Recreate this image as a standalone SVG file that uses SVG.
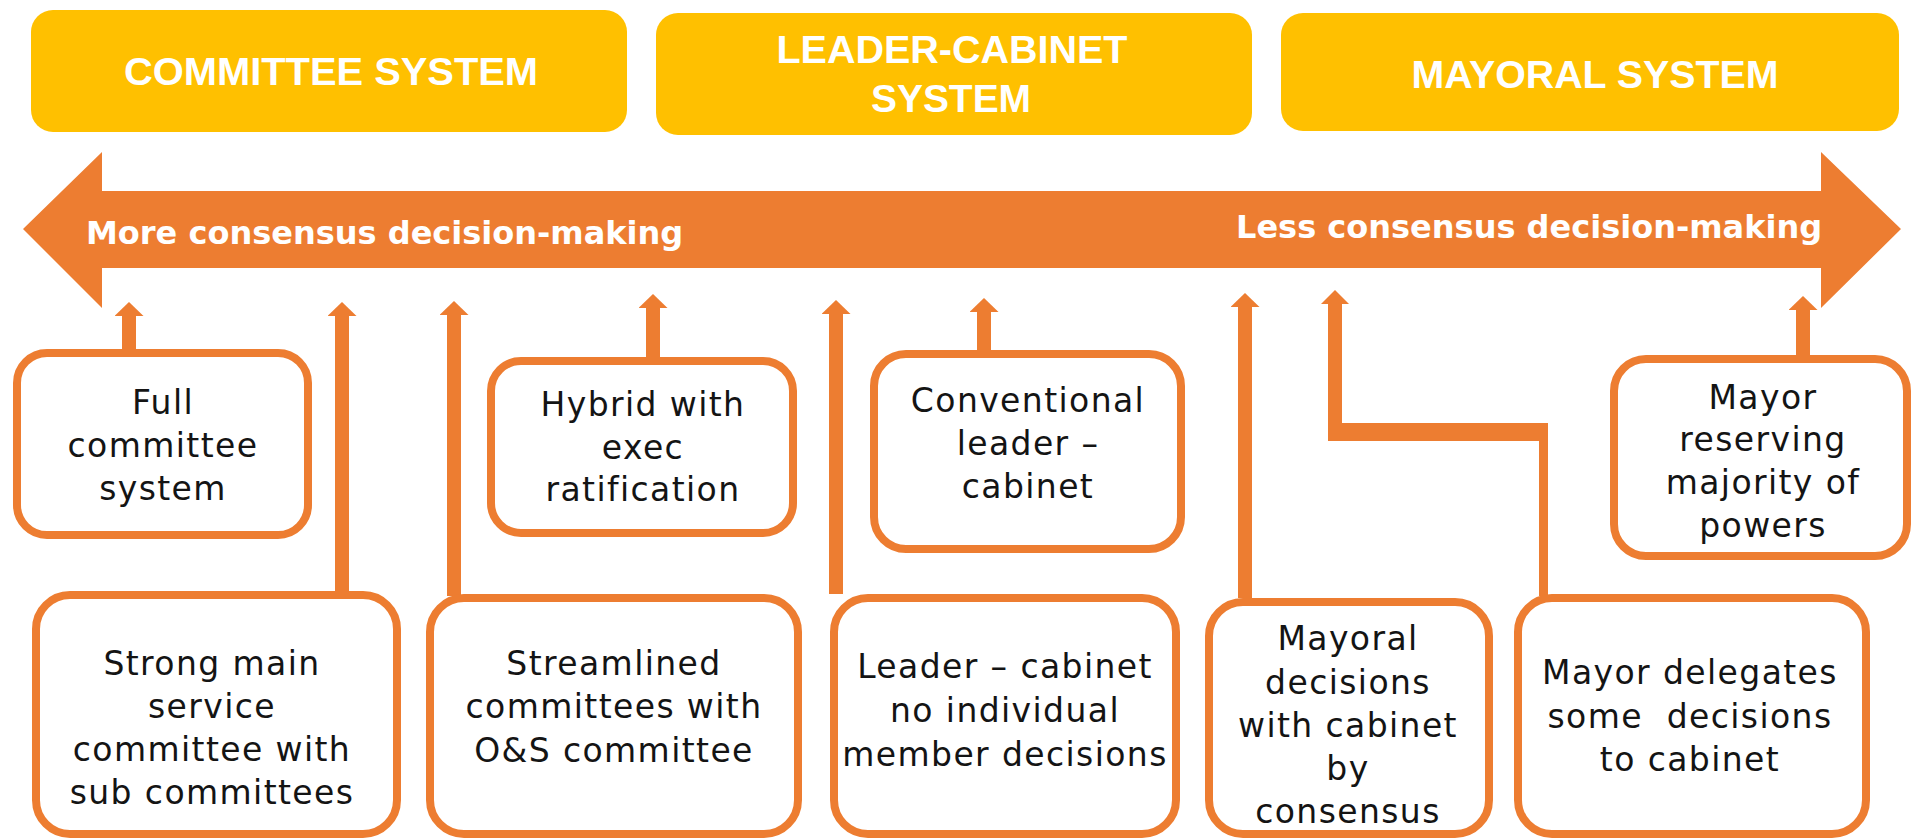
<svg xmlns="http://www.w3.org/2000/svg" width="1921" height="840" viewBox="0 0 1921 840">
  <style>
    .hdr { fill: #FFC000; }
    .hdrtxt { font-family: "Liberation Sans", Arial, sans-serif; font-weight: 700; font-size: 38px; fill: #ffffff; text-anchor: middle; }
    .axis { fill: #ED7D31; }
    .axistxt { font-family: "DejaVu Sans", "Liberation Sans", sans-serif; font-weight: 700; font-size: 32px; fill: #ffffff; }
    .box { fill: #ffffff; stroke: #ED7D31; stroke-width: 8; }
    .lbl { font-family: "DejaVu Sans", "Liberation Sans", sans-serif; font-size: 33px; letter-spacing: 1.4px; fill: #141414; text-anchor: middle; white-space: pre; }
    .conn { fill: none; stroke: #ED7D31; stroke-width: 14; }
    .connfill { fill: #ED7D31; }
  </style>
  <defs>
    <marker id="ah" viewBox="0 0 14 29" markerWidth="14" markerHeight="29" refX="0" refY="14.5" orient="auto" markerUnits="userSpaceOnUse">
      <path d="M0,0 L14,14.5 L0,29 Z" fill="#ED7D31"/>
    </marker>
  </defs>

  <rect width="1921" height="840" fill="#ffffff"/>

  <g id="hdr-committee">
    <rect class="hdr" x="31" y="10" width="596" height="122" rx="22"/>
    <text class="hdrtxt" x="331" y="85" textLength="414" lengthAdjust="spacingAndGlyphs">COMMITTEE SYSTEM</text>
  </g>
  <g id="hdr-leader">
    <rect class="hdr" x="656" y="13" width="596" height="122" rx="22"/>
    <text class="hdrtxt" x="952" y="63" textLength="351" lengthAdjust="spacingAndGlyphs">LEADER-CABINET</text>
    <text class="hdrtxt" x="951" y="112" textLength="160" lengthAdjust="spacingAndGlyphs">SYSTEM</text>
  </g>
  <g id="hdr-mayoral">
    <rect class="hdr" x="1281" y="13" width="618" height="118" rx="22"/>
    <text class="hdrtxt" x="1595" y="88" textLength="367" lengthAdjust="spacingAndGlyphs">MAYORAL SYSTEM</text>
  </g>

  <g id="axis">
    <polygon class="axis" points="23,229 102,152 102,191 1821,191 1821,152 1901,229 1821,308 1821,268 102,268 102,308"/>
    <text class="axistxt" x="86" y="244">More consensus decision-making</text>
    <text class="axistxt" x="1236" y="238">Less consensus decision-making</text>
  </g>

  <g id="connectors">
    <path class="conn" d="M129,349 V316" marker-end="url(#ah)"/>
    <path class="conn" d="M342,591 V316" marker-end="url(#ah)"/>
    <path class="conn" d="M454,596 V315" marker-end="url(#ah)"/>
    <path class="conn" d="M653,357 V308" marker-end="url(#ah)"/>
    <path class="conn" d="M836,594 V314" marker-end="url(#ah)"/>
    <path class="conn" d="M984,350 V312" marker-end="url(#ah)"/>
    <path class="conn" d="M1245,598 V307" marker-end="url(#ah)"/>
    <path class="conn" d="M1803,355 V310" marker-end="url(#ah)"/>
    <polygon class="connfill" points="1328,304 1342,304 1342,423 1548,423 1548,596 1539,596 1539,441 1328,441"/>
    <polygon class="connfill" points="1321,304 1335,290 1349,304"/>
  </g>

  <g id="full-committee">
    <rect class="box" x="17" y="353" width="291" height="182" rx="30"/>
    <text class="lbl"><tspan x="163" y="414">Full</tspan><tspan x="163" y="457">committee</tspan><tspan x="163" y="500">system</tspan></text>
  </g>
  <g id="strong-main">
    <rect class="box" x="36" y="595" width="361" height="239" rx="34"/>
    <text class="lbl"><tspan x="212" y="675">Strong main</tspan><tspan x="212" y="718">service</tspan><tspan x="212" y="761">committee with</tspan><tspan x="212" y="804">sub committees</tspan></text>
  </g>
  <g id="hybrid">
    <rect class="box" x="491" y="361" width="302" height="172" rx="30"/>
    <text class="lbl"><tspan x="643" y="416">Hybrid with</tspan><tspan x="643" y="459">exec</tspan><tspan x="643" y="501">ratification</tspan></text>
  </g>
  <g id="streamlined">
    <rect class="box" x="430" y="598" width="368" height="236" rx="34"/>
    <text class="lbl"><tspan x="614" y="675">Streamlined</tspan><tspan x="614" y="718">committees with</tspan><tspan x="614" y="762">O&amp;S committee</tspan></text>
  </g>
  <g id="conventional">
    <rect class="box" x="874" y="354" width="307" height="195" rx="32"/>
    <text class="lbl"><tspan x="1028" y="412">Conventional</tspan><tspan x="1028" y="455">leader –</tspan><tspan x="1028" y="498">cabinet</tspan></text>
  </g>
  <g id="leader-no-individual">
    <rect class="box" x="834" y="598" width="342" height="236" rx="34"/>
    <text class="lbl"><tspan x="1005" y="678">Leader – cabinet</tspan><tspan x="1005" y="722">no individual</tspan><tspan x="1005" y="766">member decisions</tspan></text>
  </g>
  <g id="mayoral-consensus">
    <rect class="box" x="1209" y="602" width="280" height="232" rx="34"/>
    <text class="lbl"><tspan x="1348" y="650">Mayoral</tspan><tspan x="1348" y="694">decisions</tspan><tspan x="1348" y="737">with cabinet</tspan><tspan x="1348" y="780">by</tspan><tspan x="1348" y="823">consensus</tspan></text>
  </g>
  <g id="mayor-delegates">
    <rect class="box" x="1518" y="598" width="348" height="236" rx="34"/>
    <text class="lbl"><tspan x="1690" y="684">Mayor delegates</tspan><tspan x="1690" y="728">some  decisions</tspan><tspan x="1690" y="771">to cabinet</tspan></text>
  </g>
  <g id="mayor-reserving">
    <rect class="box" x="1614" y="359" width="293" height="197" rx="32"/>
    <text class="lbl"><tspan x="1763" y="409">Mayor</tspan><tspan x="1763" y="451">reserving</tspan><tspan x="1763" y="494">majority of</tspan><tspan x="1763" y="537">powers</tspan></text>
  </g>
</svg>
